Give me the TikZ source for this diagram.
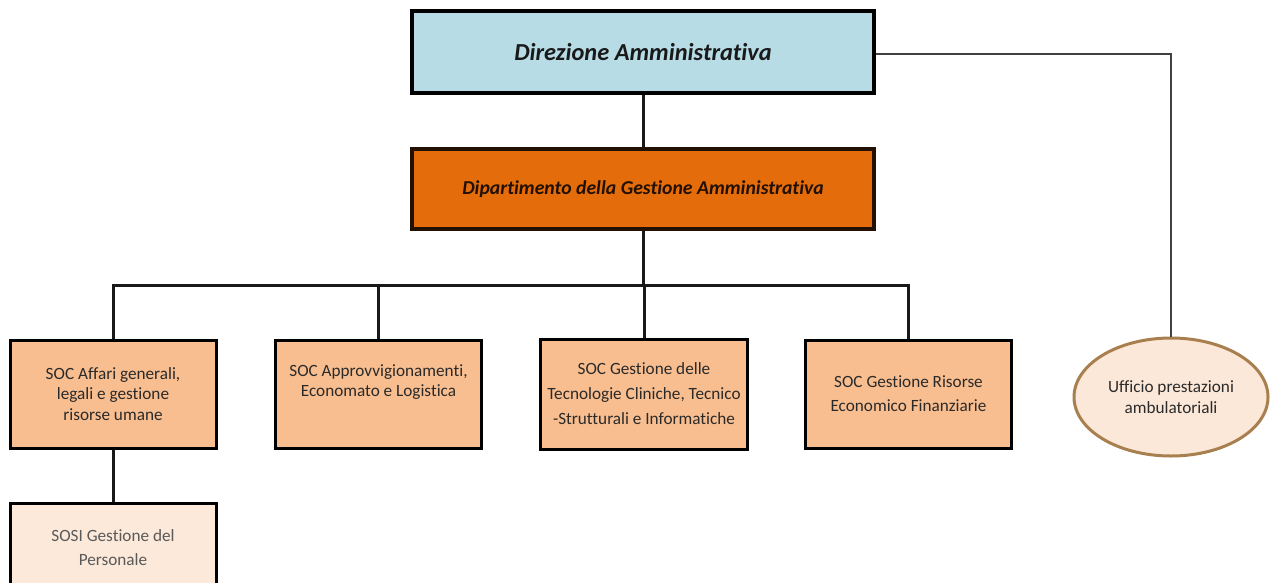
\documentclass[tikz,border=0pt]{standalone}
\usepackage{fontspec}
\setmainfont{Carlito}[Ligatures={NoCommon}]
\usetikzlibrary{shapes.geometric}
\definecolor{topblue}{HTML}{B7DCE6}
\definecolor{deptorange}{HTML}{E46C0A}
\definecolor{socfill}{HTML}{F9BE8F}
\definecolor{sosifill}{HTML}{FCE9DA}
\definecolor{ellfill}{HTML}{FCE8D8}
\definecolor{elldraw}{HTML}{A8804F}
\definecolor{txtdark}{HTML}{2A2A2A}
\tikzset{
  socbox/.style={draw=black, line width=3pt, fill=socfill, minimum width=206pt, minimum height=108pt,
    inner sep=1pt, align=center, text=txtdark, font=\fontsize{17.2}{20.5}\selectfont},
  conn/.style={draw=black!90, line width=3pt},
  sideconn/.style={draw=black!75, line width=2pt}
}
\begin{document}
\begin{tikzpicture}[x=1pt,y=-1pt]
\useasboundingbox (0,0) rectangle (1271,582);
\clip (0,0) rectangle (1271,582);
\node[draw=black, line width=4.5pt, fill=topblue, minimum width=462pt, minimum height=82pt, inner sep=0pt,
  font=\fontsize{24.4}{27}\selectfont\bfseries\itshape, text=black!90] (dir) at (643,52) {Direzione Amministrativa};
\node[draw=black!85!deptorange, line width=4pt, fill=deptorange, minimum width=462pt, minimum height=80pt, inner sep=0pt,
  font=\fontsize{19.7}{22}\selectfont\bfseries\itshape, text=black!85!deptorange] (dept) at (643,189) {Dipartimento della Gestione Amministrativa};
\node[socbox] (s1) at (113,394) {SOC Affari generali,\\legali e gestione\\risorse umane};
\node[socbox] (s2) at (378.5,394) {SOC Approvvigionamenti,\\Economato e Logistica\\\strut};
\node[socbox, minimum width=207pt, minimum height=110pt, font=\fontsize{17.2}{25}\selectfont] (s3) at (644,394) {SOC Gestione delle\\Tecnologie Cliniche, Tecnico\\-Strutturali e Informatiche};
\node[socbox, font=\fontsize{17.2}{24}\selectfont] (s4) at (908.5,394) {SOC Gestione Risorse\\Economico Finanziarie};
\node[draw=black, line width=3pt, fill=sosifill, minimum width=206pt, minimum height=88pt, inner sep=1pt, align=center,
  text=black!65, font=\fontsize{17.2}{24}\selectfont, anchor=north] (sosi) at (113,502) {SOSI Gestione del\\Personale};
\node[ellipse, draw=elldraw, line width=3pt, fill=ellfill, minimum width=194pt, minimum height=118pt, inner sep=0pt,
  align=center, text=txtdark, font=\fontsize{17.2}{21}\selectfont] (uff) at (1171,397) {Ufficio prestazioni\\ambulatoriali};
\coordinate (bus) at (643,285);
\draw[conn] (dir.south) -- (dept.north);
\draw[conn] (dept.south) -- (bus);
\draw[conn] (s1.north) |- (bus) -| (s4.north);
\draw[conn] (s2.north) -- (s2.north |- bus);
\draw[conn] (s3.north) -- (s3.north |- bus);
\draw[conn] (s1.south) -- (sosi.north);
\draw[sideconn] (dir.east) ++(0,2) -| (uff.north);
\end{tikzpicture}
\end{document}
